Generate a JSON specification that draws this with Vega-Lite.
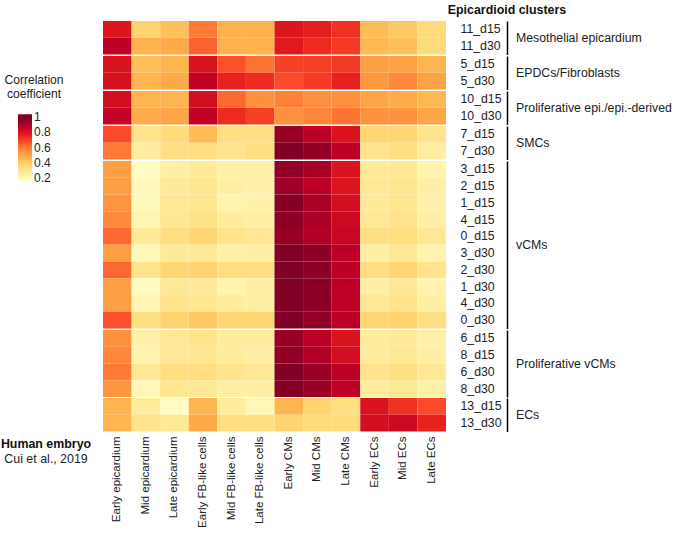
{
  "$schema": "https://vega.github.io/schema/vega-lite/v6.json",
  "padding": {"left": 0, "top": 3, "right": 0, "bottom": 0},
  "background": "white",
  "datasets": {
    "groups": [
      {"c": "11_d15", "g": "Mesothelial epicardium"}, {"c": "11_d30", "g": "Mesothelial epicardium"},
      {"c": "5_d15", "g": "EPDCs/Fibroblasts"}, {"c": "5_d30", "g": "EPDCs/Fibroblasts"},
      {"c": "10_d15", "g": "Proliferative epi./epi.-derived"}, {"c": "10_d30", "g": "Proliferative epi./epi.-derived"},
      {"c": "7_d15", "g": "SMCs"}, {"c": "7_d30", "g": "SMCs"},
      {"c": "3_d15", "g": "vCMs"}, {"c": "2_d15", "g": "vCMs"}, {"c": "1_d15", "g": "vCMs"}, {"c": "4_d15", "g": "vCMs"}, {"c": "0_d15", "g": "vCMs"},
      {"c": "3_d30", "g": "vCMs"}, {"c": "2_d30", "g": "vCMs"}, {"c": "1_d30", "g": "vCMs"}, {"c": "4_d30", "g": "vCMs"}, {"c": "0_d30", "g": "vCMs"},
      {"c": "6_d15", "g": "Proliferative vCMs"}, {"c": "8_d15", "g": "Proliferative vCMs"}, {"c": "6_d30", "g": "Proliferative vCMs"}, {"c": "8_d30", "g": "Proliferative vCMs"},
      {"c": "13_d15", "g": "ECs"}, {"c": "13_d30", "g": "ECs"}
    ]
  },
  "data": {"values": [
    {"c":"11_d15","t":"Early epicardium","v":0.79},{"c":"11_d15","t":"Mid epicardium","v":0.38},{"c":"11_d15","t":"Late epicardium","v":0.43},{"c":"11_d15","t":"Early FB-like cells","v":0.60},{"c":"11_d15","t":"Mid FB-like cells","v":0.47},{"c":"11_d15","t":"Late FB-like cells","v":0.47},{"c":"11_d15","t":"Early CMs","v":0.79},{"c":"11_d15","t":"Mid CMs","v":0.77},{"c":"11_d15","t":"Late CMs","v":0.73},{"c":"11_d15","t":"Early ECs","v":0.44},{"c":"11_d15","t":"Mid ECs","v":0.41},{"c":"11_d15","t":"Late ECs","v":0.35},
    {"c":"11_d30","t":"Early epicardium","v":0.88},{"c":"11_d30","t":"Mid epicardium","v":0.47},{"c":"11_d30","t":"Late epicardium","v":0.49},{"c":"11_d30","t":"Early FB-like cells","v":0.64},{"c":"11_d30","t":"Mid FB-like cells","v":0.47},{"c":"11_d30","t":"Late FB-like cells","v":0.47},{"c":"11_d30","t":"Early CMs","v":0.78},{"c":"11_d30","t":"Mid CMs","v":0.74},{"c":"11_d30","t":"Late CMs","v":0.71},{"c":"11_d30","t":"Early ECs","v":0.45},{"c":"11_d30","t":"Mid ECs","v":0.43},{"c":"11_d30","t":"Late ECs","v":0.35},
    {"c":"5_d15","t":"Early epicardium","v":0.80},{"c":"5_d15","t":"Mid epicardium","v":0.43},{"c":"5_d15","t":"Late epicardium","v":0.46},{"c":"5_d15","t":"Early FB-like cells","v":0.80},{"c":"5_d15","t":"Mid FB-like cells","v":0.67},{"c":"5_d15","t":"Late FB-like cells","v":0.61},{"c":"5_d15","t":"Early CMs","v":0.70},{"c":"5_d15","t":"Mid CMs","v":0.70},{"c":"5_d15","t":"Late CMs","v":0.71},{"c":"5_d15","t":"Early ECs","v":0.52},{"c":"5_d15","t":"Mid ECs","v":0.51},{"c":"5_d15","t":"Late ECs","v":0.46},
    {"c":"5_d30","t":"Early epicardium","v":0.81},{"c":"5_d30","t":"Mid epicardium","v":0.46},{"c":"5_d30","t":"Late epicardium","v":0.49},{"c":"5_d30","t":"Early FB-like cells","v":0.87},{"c":"5_d30","t":"Mid FB-like cells","v":0.76},{"c":"5_d30","t":"Late FB-like cells","v":0.74},{"c":"5_d30","t":"Early CMs","v":0.68},{"c":"5_d30","t":"Mid CMs","v":0.71},{"c":"5_d30","t":"Late CMs","v":0.76},{"c":"5_d30","t":"Early ECs","v":0.54},{"c":"5_d30","t":"Mid ECs","v":0.58},{"c":"5_d30","t":"Late ECs","v":0.51},
    {"c":"10_d15","t":"Early epicardium","v":0.82},{"c":"10_d15","t":"Mid epicardium","v":0.46},{"c":"10_d15","t":"Late epicardium","v":0.46},{"c":"10_d15","t":"Early FB-like cells","v":0.82},{"c":"10_d15","t":"Mid FB-like cells","v":0.63},{"c":"10_d15","t":"Late FB-like cells","v":0.56},{"c":"10_d15","t":"Early CMs","v":0.59},{"c":"10_d15","t":"Mid CMs","v":0.56},{"c":"10_d15","t":"Late CMs","v":0.56},{"c":"10_d15","t":"Early ECs","v":0.50},{"c":"10_d15","t":"Mid ECs","v":0.48},{"c":"10_d15","t":"Late ECs","v":0.45},
    {"c":"10_d30","t":"Early epicardium","v":0.86},{"c":"10_d30","t":"Mid epicardium","v":0.48},{"c":"10_d30","t":"Late epicardium","v":0.50},{"c":"10_d30","t":"Early FB-like cells","v":0.87},{"c":"10_d30","t":"Mid FB-like cells","v":0.74},{"c":"10_d30","t":"Late FB-like cells","v":0.70},{"c":"10_d30","t":"Early CMs","v":0.56},{"c":"10_d30","t":"Mid CMs","v":0.58},{"c":"10_d30","t":"Late CMs","v":0.61},{"c":"10_d30","t":"Early ECs","v":0.56},{"c":"10_d30","t":"Mid ECs","v":0.56},{"c":"10_d30","t":"Late ECs","v":0.50},
    {"c":"7_d15","t":"Early epicardium","v":0.68},{"c":"7_d15","t":"Mid epicardium","v":0.31},{"c":"7_d15","t":"Late epicardium","v":0.35},{"c":"7_d15","t":"Early FB-like cells","v":0.44},{"c":"7_d15","t":"Mid FB-like cells","v":0.33},{"c":"7_d15","t":"Late FB-like cells","v":0.33},{"c":"7_d15","t":"Early CMs","v":0.94},{"c":"7_d15","t":"Mid CMs","v":0.88},{"c":"7_d15","t":"Late CMs","v":0.80},{"c":"7_d15","t":"Early ECs","v":0.37},{"c":"7_d15","t":"Mid ECs","v":0.37},{"c":"7_d15","t":"Late ECs","v":0.31},
    {"c":"7_d30","t":"Early epicardium","v":0.60},{"c":"7_d30","t":"Mid epicardium","v":0.26},{"c":"7_d30","t":"Late epicardium","v":0.33},{"c":"7_d30","t":"Early FB-like cells","v":0.34},{"c":"7_d30","t":"Mid FB-like cells","v":0.31},{"c":"7_d30","t":"Late FB-like cells","v":0.33},{"c":"7_d30","t":"Early CMs","v":0.98},{"c":"7_d30","t":"Mid CMs","v":0.95},{"c":"7_d30","t":"Late CMs","v":0.88},{"c":"7_d30","t":"Early ECs","v":0.31},{"c":"7_d30","t":"Mid ECs","v":0.33},{"c":"7_d30","t":"Late ECs","v":0.26},
    {"c":"3_d15","t":"Early epicardium","v":0.52},{"c":"3_d15","t":"Mid epicardium","v":0.18},{"c":"3_d15","t":"Late epicardium","v":0.25},{"c":"3_d15","t":"Early FB-like cells","v":0.28},{"c":"3_d15","t":"Mid FB-like cells","v":0.24},{"c":"3_d15","t":"Late FB-like cells","v":0.24},{"c":"3_d15","t":"Early CMs","v":0.95},{"c":"3_d15","t":"Mid CMs","v":0.92},{"c":"3_d15","t":"Late CMs","v":0.80},{"c":"3_d15","t":"Early ECs","v":0.28},{"c":"3_d15","t":"Mid ECs","v":0.29},{"c":"3_d15","t":"Late ECs","v":0.23},
    {"c":"2_d15","t":"Early epicardium","v":0.52},{"c":"2_d15","t":"Mid epicardium","v":0.20},{"c":"2_d15","t":"Late epicardium","v":0.28},{"c":"2_d15","t":"Early FB-like cells","v":0.30},{"c":"2_d15","t":"Mid FB-like cells","v":0.25},{"c":"2_d15","t":"Late FB-like cells","v":0.24},{"c":"2_d15","t":"Early CMs","v":0.93},{"c":"2_d15","t":"Mid CMs","v":0.88},{"c":"2_d15","t":"Late CMs","v":0.79},{"c":"2_d15","t":"Early ECs","v":0.29},{"c":"2_d15","t":"Mid ECs","v":0.30},{"c":"2_d15","t":"Late ECs","v":0.25},
    {"c":"1_d15","t":"Early epicardium","v":0.55},{"c":"1_d15","t":"Mid epicardium","v":0.20},{"c":"1_d15","t":"Late epicardium","v":0.29},{"c":"1_d15","t":"Early FB-like cells","v":0.30},{"c":"1_d15","t":"Mid FB-like cells","v":0.23},{"c":"1_d15","t":"Late FB-like cells","v":0.24},{"c":"1_d15","t":"Early CMs","v":0.97},{"c":"1_d15","t":"Mid CMs","v":0.91},{"c":"1_d15","t":"Late CMs","v":0.82},{"c":"1_d15","t":"Early ECs","v":0.28},{"c":"1_d15","t":"Mid ECs","v":0.30},{"c":"1_d15","t":"Late ECs","v":0.24},
    {"c":"4_d15","t":"Early epicardium","v":0.57},{"c":"4_d15","t":"Mid epicardium","v":0.22},{"c":"4_d15","t":"Late epicardium","v":0.30},{"c":"4_d15","t":"Early FB-like cells","v":0.32},{"c":"4_d15","t":"Mid FB-like cells","v":0.27},{"c":"4_d15","t":"Late FB-like cells","v":0.25},{"c":"4_d15","t":"Early CMs","v":0.96},{"c":"4_d15","t":"Mid CMs","v":0.91},{"c":"4_d15","t":"Late CMs","v":0.84},{"c":"4_d15","t":"Early ECs","v":0.29},{"c":"4_d15","t":"Mid ECs","v":0.31},{"c":"4_d15","t":"Late ECs","v":0.25},
    {"c":"0_d15","t":"Early epicardium","v":0.63},{"c":"0_d15","t":"Mid epicardium","v":0.28},{"c":"0_d15","t":"Late epicardium","v":0.34},{"c":"0_d15","t":"Early FB-like cells","v":0.37},{"c":"0_d15","t":"Mid FB-like cells","v":0.31},{"c":"0_d15","t":"Late FB-like cells","v":0.29},{"c":"0_d15","t":"Early CMs","v":0.94},{"c":"0_d15","t":"Mid CMs","v":0.90},{"c":"0_d15","t":"Late CMs","v":0.85},{"c":"0_d15","t":"Early ECs","v":0.33},{"c":"0_d15","t":"Mid ECs","v":0.34},{"c":"0_d15","t":"Late ECs","v":0.29},
    {"c":"3_d30","t":"Early epicardium","v":0.52},{"c":"3_d30","t":"Mid epicardium","v":0.21},{"c":"3_d30","t":"Late epicardium","v":0.28},{"c":"3_d30","t":"Early FB-like cells","v":0.28},{"c":"3_d30","t":"Mid FB-like cells","v":0.24},{"c":"3_d30","t":"Late FB-like cells","v":0.25},{"c":"3_d30","t":"Early CMs","v":0.98},{"c":"3_d30","t":"Mid CMs","v":0.96},{"c":"3_d30","t":"Late CMs","v":0.88},{"c":"3_d30","t":"Early ECs","v":0.25},{"c":"3_d30","t":"Mid ECs","v":0.29},{"c":"3_d30","t":"Late ECs","v":0.23},
    {"c":"2_d30","t":"Early epicardium","v":0.63},{"c":"2_d30","t":"Mid epicardium","v":0.31},{"c":"2_d30","t":"Late epicardium","v":0.37},{"c":"2_d30","t":"Early FB-like cells","v":0.38},{"c":"2_d30","t":"Mid FB-like cells","v":0.34},{"c":"2_d30","t":"Late FB-like cells","v":0.34},{"c":"2_d30","t":"Early CMs","v":0.98},{"c":"2_d30","t":"Mid CMs","v":0.96},{"c":"2_d30","t":"Late CMs","v":0.88},{"c":"2_d30","t":"Early ECs","v":0.34},{"c":"2_d30","t":"Mid ECs","v":0.37},{"c":"2_d30","t":"Late ECs","v":0.31},
    {"c":"1_d30","t":"Early epicardium","v":0.52},{"c":"1_d30","t":"Mid epicardium","v":0.19},{"c":"1_d30","t":"Late epicardium","v":0.29},{"c":"1_d30","t":"Early FB-like cells","v":0.28},{"c":"1_d30","t":"Mid FB-like cells","v":0.23},{"c":"1_d30","t":"Late FB-like cells","v":0.25},{"c":"1_d30","t":"Early CMs","v":0.99},{"c":"1_d30","t":"Mid CMs","v":0.96},{"c":"1_d30","t":"Late CMs","v":0.88},{"c":"1_d30","t":"Early ECs","v":0.25},{"c":"1_d30","t":"Mid ECs","v":0.29},{"c":"1_d30","t":"Late ECs","v":0.23},
    {"c":"4_d30","t":"Early epicardium","v":0.52},{"c":"4_d30","t":"Mid epicardium","v":0.22},{"c":"4_d30","t":"Late epicardium","v":0.31},{"c":"4_d30","t":"Early FB-like cells","v":0.30},{"c":"4_d30","t":"Mid FB-like cells","v":0.27},{"c":"4_d30","t":"Late FB-like cells","v":0.25},{"c":"4_d30","t":"Early CMs","v":0.99},{"c":"4_d30","t":"Mid CMs","v":0.96},{"c":"4_d30","t":"Late CMs","v":0.87},{"c":"4_d30","t":"Early ECs","v":0.29},{"c":"4_d30","t":"Mid ECs","v":0.31},{"c":"4_d30","t":"Late ECs","v":0.25},
    {"c":"0_d30","t":"Early epicardium","v":0.67},{"c":"0_d30","t":"Mid epicardium","v":0.33},{"c":"0_d30","t":"Late epicardium","v":0.38},{"c":"0_d30","t":"Early FB-like cells","v":0.41},{"c":"0_d30","t":"Mid FB-like cells","v":0.37},{"c":"0_d30","t":"Late FB-like cells","v":0.37},{"c":"0_d30","t":"Early CMs","v":0.98},{"c":"0_d30","t":"Mid CMs","v":0.95},{"c":"0_d30","t":"Late CMs","v":0.88},{"c":"0_d30","t":"Early ECs","v":0.37},{"c":"0_d30","t":"Mid ECs","v":0.38},{"c":"0_d30","t":"Late ECs","v":0.33},
    {"c":"6_d15","t":"Early epicardium","v":0.56},{"c":"6_d15","t":"Mid epicardium","v":0.24},{"c":"6_d15","t":"Late epicardium","v":0.29},{"c":"6_d15","t":"Early FB-like cells","v":0.31},{"c":"6_d15","t":"Mid FB-like cells","v":0.27},{"c":"6_d15","t":"Late FB-like cells","v":0.27},{"c":"6_d15","t":"Early CMs","v":0.94},{"c":"6_d15","t":"Mid CMs","v":0.88},{"c":"6_d15","t":"Late CMs","v":0.80},{"c":"6_d15","t":"Early ECs","v":0.27},{"c":"6_d15","t":"Mid ECs","v":0.28},{"c":"6_d15","t":"Late ECs","v":0.24},
    {"c":"8_d15","t":"Early epicardium","v":0.58},{"c":"8_d15","t":"Mid epicardium","v":0.23},{"c":"8_d15","t":"Late epicardium","v":0.29},{"c":"8_d15","t":"Early FB-like cells","v":0.30},{"c":"8_d15","t":"Mid FB-like cells","v":0.27},{"c":"8_d15","t":"Late FB-like cells","v":0.25},{"c":"8_d15","t":"Early CMs","v":0.95},{"c":"8_d15","t":"Mid CMs","v":0.90},{"c":"8_d15","t":"Late CMs","v":0.82},{"c":"8_d15","t":"Early ECs","v":0.27},{"c":"8_d15","t":"Mid ECs","v":0.29},{"c":"8_d15","t":"Late ECs","v":0.25},
    {"c":"6_d30","t":"Early epicardium","v":0.60},{"c":"6_d30","t":"Mid epicardium","v":0.29},{"c":"6_d30","t":"Late epicardium","v":0.34},{"c":"6_d30","t":"Early FB-like cells","v":0.34},{"c":"6_d30","t":"Mid FB-like cells","v":0.31},{"c":"6_d30","t":"Late FB-like cells","v":0.29},{"c":"6_d30","t":"Early CMs","v":0.98},{"c":"6_d30","t":"Mid CMs","v":0.94},{"c":"6_d30","t":"Late CMs","v":0.88},{"c":"6_d30","t":"Early ECs","v":0.31},{"c":"6_d30","t":"Mid ECs","v":0.33},{"c":"6_d30","t":"Late ECs","v":0.29},
    {"c":"8_d30","t":"Early epicardium","v":0.55},{"c":"8_d30","t":"Mid epicardium","v":0.21},{"c":"8_d30","t":"Late epicardium","v":0.30},{"c":"8_d30","t":"Early FB-like cells","v":0.29},{"c":"8_d30","t":"Mid FB-like cells","v":0.25},{"c":"8_d30","t":"Late FB-like cells","v":0.25},{"c":"8_d30","t":"Early CMs","v":0.97},{"c":"8_d30","t":"Mid CMs","v":0.94},{"c":"8_d30","t":"Late CMs","v":0.87},{"c":"8_d30","t":"Early ECs","v":0.27},{"c":"8_d30","t":"Mid ECs","v":0.29},{"c":"8_d30","t":"Late ECs","v":0.24},
    {"c":"13_d15","t":"Early epicardium","v":0.46},{"c":"13_d15","t":"Mid epicardium","v":0.27},{"c":"13_d15","t":"Late epicardium","v":0.18},{"c":"13_d15","t":"Early FB-like cells","v":0.46},{"c":"13_d15","t":"Mid FB-like cells","v":0.27},{"c":"13_d15","t":"Late FB-like cells","v":0.21},{"c":"13_d15","t":"Early CMs","v":0.46},{"c":"13_d15","t":"Mid CMs","v":0.38},{"c":"13_d15","t":"Late CMs","v":0.34},{"c":"13_d15","t":"Early ECs","v":0.80},{"c":"13_d15","t":"Mid ECs","v":0.73},{"c":"13_d15","t":"Late ECs","v":0.68},
    {"c":"13_d30","t":"Early epicardium","v":0.46},{"c":"13_d30","t":"Mid epicardium","v":0.31},{"c":"13_d30","t":"Late epicardium","v":0.29},{"c":"13_d30","t":"Early FB-like cells","v":0.49},{"c":"13_d30","t":"Mid FB-like cells","v":0.34},{"c":"13_d30","t":"Late FB-like cells","v":0.33},{"c":"13_d30","t":"Early CMs","v":0.38},{"c":"13_d30","t":"Mid CMs","v":0.35},{"c":"13_d30","t":"Late CMs","v":0.35},{"c":"13_d30","t":"Early ECs","v":0.82},{"c":"13_d30","t":"Mid ECs","v":0.84},{"c":"13_d30","t":"Late ECs","v":0.76}
  ]},
  "transform": [
    {"lookup": "c", "from": {"data": {"name": "groups"}, "key": "c", "fields": ["g"]}}
  ],
  "title": {
    "text": "Human embryo",
    "subtitle": "Cui et al., 2019",
    "orient": "bottom",
    "anchor": "start",
    "frame": "group",
    "align": "center",
    "dx": -57,
    "dy": -89,
    "offset": 0,
    "font": "Liberation Sans",
    "fontSize": 12.4,
    "fontWeight": "bold",
    "color": "#111",
    "subtitleFont": "Liberation Sans",
    "subtitleFontSize": 12.4,
    "subtitleColor": "#222",
    "subtitlePadding": 2
  },
  "facet": {
    "row": {
      "field": "g",
      "type": "nominal",
      "sort": ["Mesothelial epicardium", "EPDCs/Fibroblasts", "Proliferative epi./epi.-derived", "SMCs", "vCMs", "Proliferative vCMs", "ECs"],
      "header": {
        "title": "Epicardioid clusters",
        "titleOrient": "top",
        "titleAnchor": "end",
        "titleAlign": "center",
        "titlePadding": 5,
        "titleFont": "Liberation Sans",
        "titleFontSize": 12.4,
        "titleFontWeight": "bold",
        "titleColor": "#111",
        "labelOrient": "right",
        "labelAngle": 0,
        "labelAlign": "right",
        "labelFont": "Liberation Sans",
        "labelFontSize": 12.3,
        "labelColor": "#222",
        "labelPadding": 9
      }
    }
  },
  "spacing": 1,
  "resolve": {"scale": {"y": "independent"}},
  "spec": {
    "width": 343,
    "height": {"step": 16.75},
    "mark": {"type": "rect"},
    "encoding": {
      "x": {
        "field": "t",
        "type": "nominal",
        "sort": ["Early epicardium", "Mid epicardium", "Late epicardium", "Early FB-like cells", "Mid FB-like cells", "Late FB-like cells", "Early CMs", "Mid CMs", "Late CMs", "Early ECs", "Mid ECs", "Late ECs"],
        "axis": {"title": null, "labelAngle": -90, "labelFont": "Liberation Sans", "labelFontSize": 11.5, "labelColor": "#222", "ticks": false, "domain": false, "labelPadding": 4}
      },
      "y": {
        "field": "c",
        "type": "nominal",
        "sort": ["11_d15", "11_d30", "5_d15", "5_d30", "10_d15", "10_d30", "7_d15", "7_d30", "3_d15", "2_d15", "1_d15", "4_d15", "0_d15", "3_d30", "2_d30", "1_d30", "4_d30", "0_d30", "6_d15", "8_d15", "6_d30", "8_d30", "13_d15", "13_d30"],
        "axis": {"orient": "right", "title": null, "offset": 61, "ticks": false, "domainColor": "#000", "domainWidth": 1.5, "labelAlign": "left", "labelPadding": -47, "labelFont": "Liberation Sans", "labelFontSize": 12.3, "labelColor": "#222"}
      },
      "color": {
        "field": "v",
        "type": "quantitative",
        "scale": {
          "domain": [0.16, 0.2625, 0.365, 0.4675, 0.57, 0.6725, 0.775, 0.8775, 0.98, 1.04],
          "range": ["#ffffcc", "#ffeda0", "#fed976", "#feb24c", "#fd8d3c", "#fc4e2a", "#e31a1c", "#bd0026", "#800026", "#800026"],
          "interpolate": "rgb"
        },
        "legend": {
          "title": ["Correlation", "coefficient"],
          "orient": "none",
          "legendX": -99,
          "legendY": 53,
          "direction": "vertical",
          "gradientLength": 67,
          "gradientThickness": 14,
          "values": [0.2, 0.4, 0.6, 0.8, 1],
          "format": ".1~f",
          "labelOverlap": false,
          "titleFont": "Liberation Sans",
          "titleFontWeight": "normal",
          "titleFontSize": 12.1,
          "titleColor": "#222",
          "titleAlign": "center",
          "titleAnchor": "middle",
          "titlePadding": 14,
          "labelFont": "Liberation Sans",
          "labelFontSize": 12,
          "labelColor": "#222"
        }
      }
    }
  },
  "config": {"view": {"stroke": null}, "axis": {"grid": false}}
}
